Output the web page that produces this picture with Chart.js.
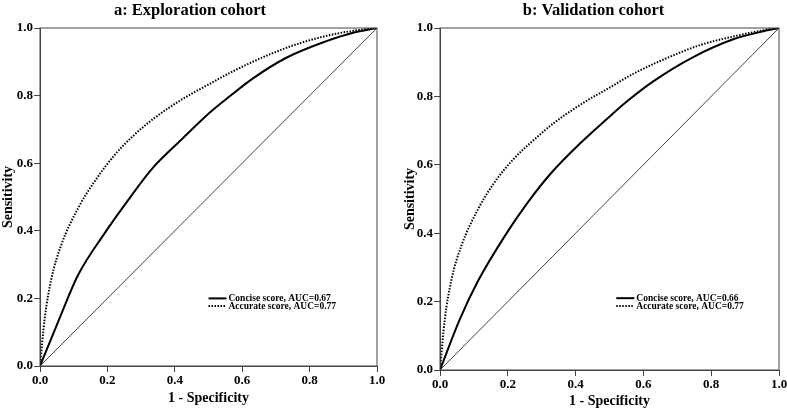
<!DOCTYPE html>
<html><head><meta charset="utf-8">
<script src="https://cdn.jsdelivr.net/npm/chart.js@4/dist/chart.umd.min.js"></script>
<style>
body{margin:0;background:#fff;width:787px;height:411px;position:relative;overflow:hidden}
#w1{position:absolute;left:0;top:0;width:396px;height:411px}
#w2{position:absolute;left:400px;top:0;width:387px;height:411px}
</style></head><body>
<div id="w1"><canvas id="c1"></canvas></div>
<div id="w2"><canvas id="c2"></canvas></div>
<script>
// Panel a: Exploration cohort
const aConciseX = [0, 0.058, 0.113, 0.192, 0.261, 0.331, 0.42, 0.504, 0.563, 0.632, 0.731, 0.85, 0.929, 1];
const aConciseY = [0, 0.141, 0.269, 0.393, 0.49, 0.582, 0.67, 0.75, 0.798, 0.851, 0.912, 0.961, 0.986, 1];
const aAccurateX = [0, 0.014, 0.034, 0.063, 0.113, 0.162, 0.222, 0.281, 0.34, 0.42, 0.504, 0.573, 0.672, 0.771, 0.869, 0.969, 1];
const aAccurateY = [0, 0.141, 0.259, 0.358, 0.467, 0.546, 0.625, 0.685, 0.734, 0.788, 0.835, 0.872, 0.918, 0.955, 0.981, 0.997, 1];
// Panel b: Validation cohort
const bConciseX = [0, 0.058, 0.112, 0.19, 0.259, 0.328, 0.416, 0.499, 0.551, 0.629, 0.747, 0.865, 0.943, 1];
const bConciseY = [0, 0.147, 0.26, 0.39, 0.49, 0.576, 0.665, 0.74, 0.785, 0.844, 0.915, 0.967, 0.988, 1];
const bAccurateX = [0, 0.014, 0.034, 0.063, 0.112, 0.161, 0.22, 0.279, 0.337, 0.416, 0.499, 0.57, 0.669, 0.767, 0.865, 0.963, 1];
const bAccurateY = [0, 0.147, 0.265, 0.363, 0.47, 0.549, 0.62, 0.675, 0.723, 0.777, 0.825, 0.866, 0.912, 0.95, 0.975, 0.995, 1];
// Reference line
const refX = [0, 1];
const refY = [0, 1];

const titles = ["a: Exploration cohort", "b: Validation cohort"];
const legendLabels = [
  ["Concise score, AUC=0.67", "Accurate score, AUC=0.77"],
  ["Concise score, AUC=0.66", "Accurate score, AUC=0.77"]
];
const xTitle = "1 - Specificity";
const yTitle = "Sensitivity";

const SERIF = "'Liberation Serif', 'Times New Roman', serif";
const pts = (xs, ys) => xs.map((x, i) => ({x: x, y: ys[i]}));

const framePlugin = {
  id: 'frame',
  afterDatasetsDraw(chart) {
    const {ctx, chartArea: a} = chart;
    ctx.save();
    ctx.strokeStyle = '#444';
    ctx.lineWidth = 1;
    ctx.strokeRect(a.left, a.top, a.right - a.left, a.bottom - a.top);
    ctx.restore();
  }
};

const headPlugin = {
  id: 'head',
  afterDraw(chart, args, opts) {
    const {ctx} = chart;
    ctx.save();
    ctx.font = "bold 16.5px " + SERIF;
    ctx.textAlign = 'center';
    ctx.textBaseline = 'middle';
    ctx.fillStyle = '#000';
    ctx.fillText(opts.text, opts.x, opts.y);
    ctx.restore();
  }
};

const legendPlugin = {
  id: 'inLegend',
  afterDraw(chart, args, opts) {
    const {ctx, chartArea: a} = chart;
    const x0 = a.left + opts.fx * (a.right - a.left);
    const y0 = a.bottom - opts.fy * (a.bottom - a.top);
    ctx.save();
    ctx.font = "bold 9.5px " + SERIF;
    ctx.textBaseline = 'middle';
    ctx.fillStyle = '#000';
    opts.items.forEach((it, i) => {
      const ds = chart.data.datasets[it.ds];
      const y = y0 + i * 7.7;
      ctx.beginPath();
      ctx.strokeStyle = ds.borderColor;
      ctx.lineWidth = ds.borderWidth;
      ctx.setLineDash(ds.borderDash || []);
      ctx.moveTo(x0, y);
      ctx.lineTo(x0 + 18, y);
      ctx.stroke();
      ctx.setLineDash([]);
      ctx.fillText(it.text, x0 + 20, y + 0.5);
    });
    ctx.restore();
  }
};

function makeChart(id, cfg) {
  const tickFont = {family: SERIF, size: 13, weight: 'bold'};
  new Chart(document.getElementById(id), {
    type: 'line',
    data: {
      datasets: [
        {label: legendLabels[cfg.i][0], data: pts(cfg.cx, cfg.cy), borderColor: '#000', borderWidth: 2, pointRadius: 0, cubicInterpolationMode: 'monotone', fill: false},
        {label: legendLabels[cfg.i][1], data: pts(cfg.ax, cfg.ay), borderColor: '#000', borderWidth: 2, borderDash: [1.5, 1.5], pointRadius: 0, cubicInterpolationMode: 'monotone', fill: false},
        {label: 'ref', data: pts(refX, refY), borderColor: '#111', borderWidth: 0.8, pointRadius: 0, tension: 0, fill: false}
      ]
    },
    options: {
      responsive: true,
      maintainAspectRatio: false,
      animation: false,
      layout: {padding: {left: 0, right: cfg.padR, top: cfg.padT, bottom: 0}},
      plugins: {
        legend: {display: false},
        tooltip: {enabled: false},
        title: {display: false},
        head: {text: titles[cfg.i], x: cfg.titleX, y: 11},
        inLegend: {fx: cfg.legFx, fy: cfg.legFy, items: [{ds: 0, text: legendLabels[cfg.i][0]}, {ds: 1, text: legendLabels[cfg.i][1]}]}
      },
      scales: {
        x: {
          type: 'linear', min: 0, max: 1,
          ticks: {stepSize: 0.2, color: '#000', font: tickFont, padding: 1, maxRotation: 0, callback: v => v.toFixed(1)},
          grid: {drawOnChartArea: false, drawTicks: true, tickLength: 6, color: '#444'},
          border: {display: true, color: '#444'},
          title: {display: true, text: xTitle, color: '#000', font: {family: SERIF, size: 14, weight: 'bold'}, padding: {top: 0, bottom: cfg.xTitlePadB}},
          afterFit(s) { s.height = cfg.xH; s.paddingLeft = 0; s.paddingRight = 0; }
        },
        y: {
          type: 'linear', min: 0, max: 1,
          ticks: {stepSize: 0.2, color: '#000', font: tickFont, padding: 1, callback: v => v.toFixed(1)},
          grid: {drawOnChartArea: false, drawTicks: true, tickLength: 6, color: '#444'},
          border: {display: true, color: '#444'},
          title: {display: true, text: yTitle, color: '#000', font: {family: SERIF, size: 14, weight: 'bold'}, padding: {top: cfg.yTitlePadT, bottom: 0}},
          afterFit(s) { s.width = cfg.yW; s.paddingTop = 0; s.paddingBottom = 0; }
        }
      }
    },
    plugins: [framePlugin, legendPlugin, headPlugin]
  });
}

makeChart('c1', {i: 0, cx: aConciseX, cy: aConciseY, ax: aAccurateX, ay: aAccurateY, padR: 19, padT: 28, titleX: 190, xH: 45, xTitlePadB: 4, yW: 40, yTitlePadT: 0, legFx: 0.5, legFy: 0.2});
makeChart('c2', {i: 1, cx: bConciseX, cy: bConciseY, ax: bAccurateX, ay: bAccurateY, padR: 8, padT: 28, titleX: 193.5, xH: 41, xTitlePadB: 1, yW: 40, yTitlePadT: 2, legFx: 0.52, legFy: 0.21});
</script>
</body></html>
